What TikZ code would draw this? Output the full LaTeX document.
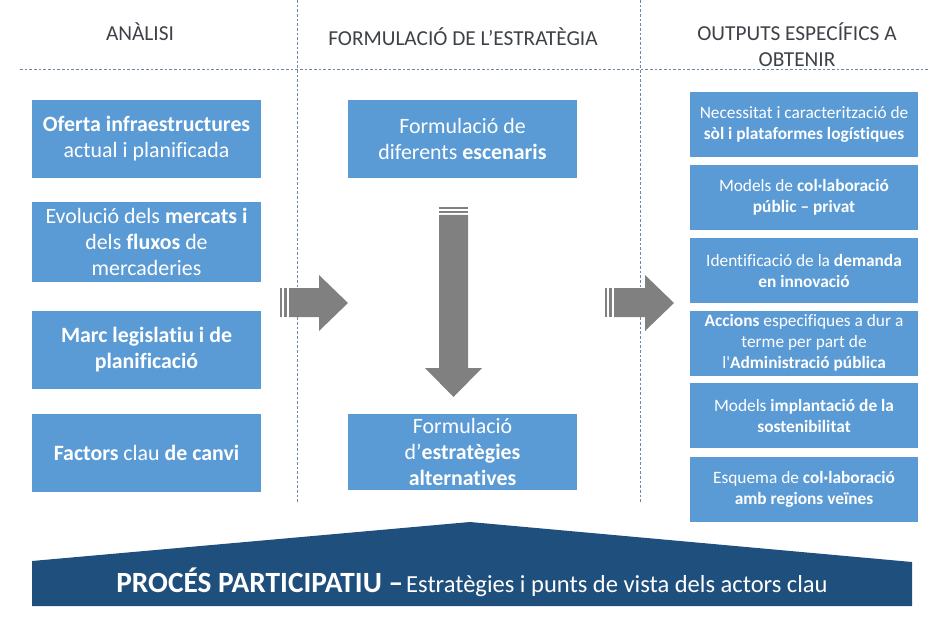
\documentclass[tikz,border=0pt]{standalone}
\usepackage{fontspec}
\setmainfont[Ligatures={TeXOff,CommonOff}]{Carlito}
\definecolor{boxblue}{RGB}{91,155,213}
\definecolor{bannerblue}{RGB}{31,80,125}
\definecolor{arrowgray}{RGB}{128,128,128}
\definecolor{headtxt}{RGB}{62,66,72}
\definecolor{dashc}{RGB}{110,135,165}
\begin{document}
\begin{tikzpicture}[x=0.75pt,y=-0.75pt,
  bx/.style={fill=boxblue, text=white, align=center, inner sep=0pt,
    minimum width=171.75pt, minimum height=58.5pt,
    font=\fontsize{16.4}{19.5}\selectfont},
  rbx/.style={bx, minimum width=171pt, minimum height=48.75pt,
    font=\fontsize{13}{15.75}\selectfont},
  hdr/.style={text=headtxt, align=center, inner sep=0pt,
    font=\fontsize{16}{19.5}\selectfont},
  guide/.style={draw=dashc, line width=0.6pt, dash pattern=on 2pt off 1.5pt},
  blockarrow/.style={fill=arrowgray, draw=none},
  bannertxt/.style={text=white, inner sep=0pt}]
\useasboundingbox (0,0) rectangle (944,623);

% guides
\coordinate (g1t) at (297,0);   \coordinate (g1b) at (297,503);
\coordinate (g2t) at (640,0);   \coordinate (g2b) at (640,503);
\coordinate (hl) at (20,69);    \coordinate (hr) at (930,69);
\draw[guide] (g1t) -- (g1b);
\draw[guide] (g2t) -- (g2b);
\draw[guide] (hl) -- (hr);

% headers
\node[hdr] (h1) at (140,32) {ANÀLISI};
\node[hdr] (h2) at (463,37) {FORMULACIÓ DE L’ESTRATÈGIA};
\node[hdr] (h3) at (797,45) {OUTPUTS ESPECÍFICS A\\OBTENIR};

% left column
\node[bx] (l1) at (146.5,139) {\textbf{Oferta infraestructures}\\actual i planificada};
\node[bx, minimum height=60pt] (l2) at (146.5,242) {Evolució dels \textbf{mercats i}\\dels \textbf{fluxos} de\\mercaderies};
\node[bx] (l3) at (146.5,349.5) {\textbf{Marc legislatiu i de}\\\textbf{planificació}};
\node[bx] (l4) at (146.5,452.5) {\textbf{Factors} clau \textbf{de canvi}};

% middle column
\node[bx] (m1) at (462.5,139) {Formulació de\\diferents \textbf{escenaris}};
\node[bx, minimum height=57pt] (m2) at (462.5,452) {Formulació\\d’\textbf{estratègies}\\\textbf{alternatives}};

% right column
\node[rbx] (r1) at (804,124.5) {Necessitat i caracterització de\\\textbf{sòl i plataformes logístiques}};
\node[rbx] (r2) at (804,197.5) {Models de \textbf{col·laboració}\\\textbf{públic – privat}};
\node[rbx] (r3) at (804,270.5) {Identificació de la \textbf{demanda}\\\textbf{en innovació}};
\node[rbx] (r4) at (804,343) {\textbf{Accions} especifiques a dur a\\terme per part de\\l'\textbf{Administració pública}};
\node[rbx] (r5) at (804,415.5) {Models \textbf{implantació de la}\\\textbf{sostenibilitat}};
\node[rbx] (r6) at (804,489) {Esquema de \textbf{col·laboració}\\\textbf{amb regions veïnes}};

% left striped arrow
\fill[blockarrow] (280,288) rectangle (282,317);
\fill[blockarrow] (284,288) rectangle (287,317);
\fill[blockarrow] (289,288) -- (319,288) -- (319,275) -- (348,303) -- (319,331) -- (319,317) -- (289,317) -- cycle;

% right striped arrow
\fill[blockarrow] (605,288) rectangle (607,317);
\fill[blockarrow] (609,288) rectangle (612,317);
\fill[blockarrow] (614,288) -- (645,288) -- (645,275) -- (674,303) -- (645,331) -- (645,317) -- (614,317) -- cycle;

% down striped arrow
\fill[blockarrow] (439,207) rectangle (468,209);
\fill[blockarrow] (439,211) rectangle (468,213);
\fill[blockarrow] (439,215) -- (468,215) -- (468,368) -- (482,368) -- (453.5,397) -- (425,368) -- (439,368) -- cycle;

% banner
\fill[bannerblue] (32,606) -- (32,561) -- (470,522) -- (912,562) -- (912,606) -- cycle;
\node[bannertxt, anchor=base] (bt) at (472,592)
  {{\fontsize{22}{24}\selectfont\bfseries PROCÉS PARTICIPATIU –} {\fontsize{18.4}{22}\selectfont Estratègies i punts de vista dels actors clau}};
\end{tikzpicture}
\end{document}
